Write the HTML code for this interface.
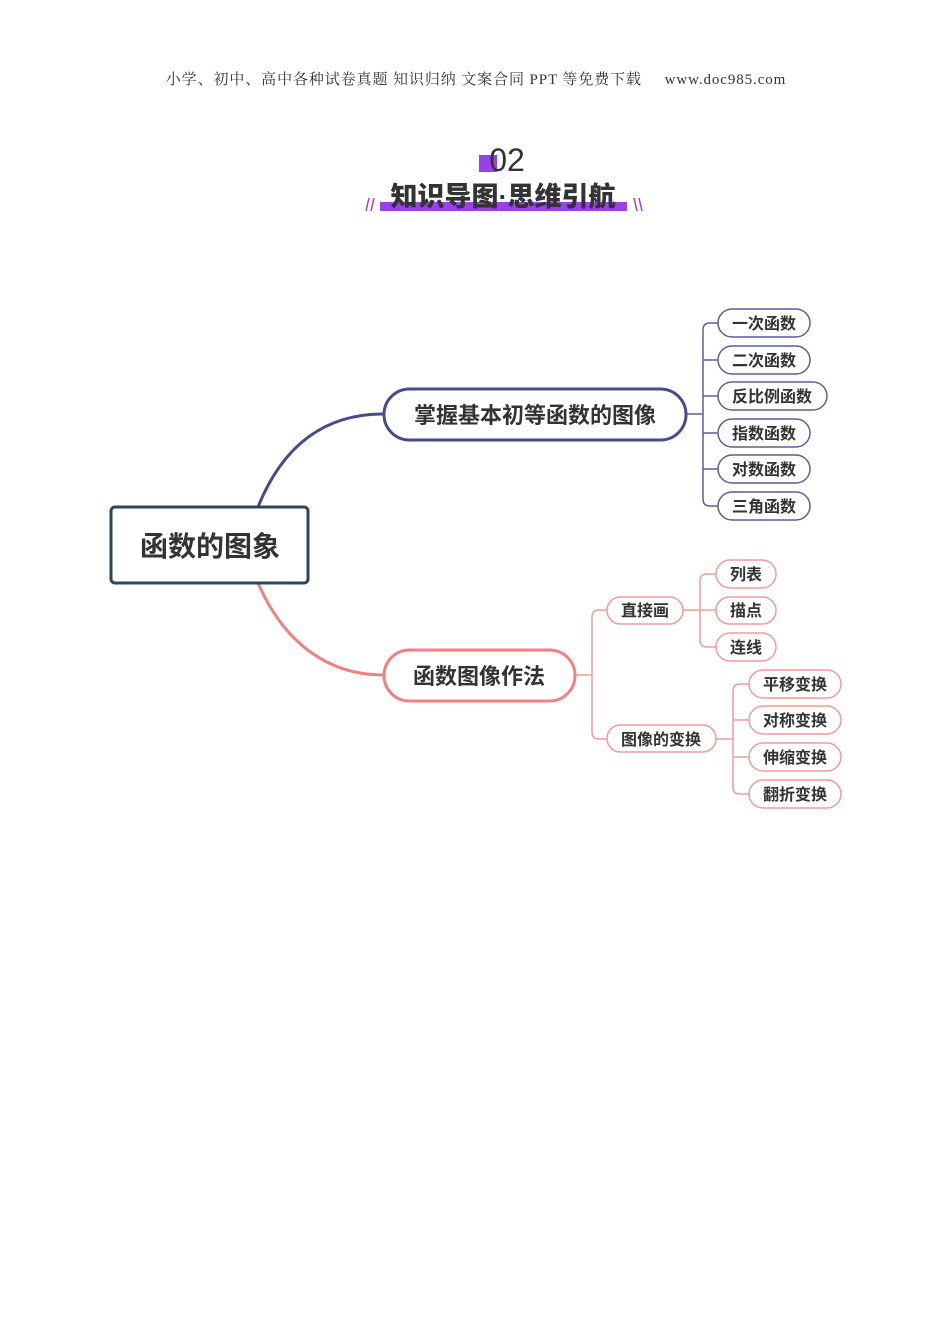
<!DOCTYPE html>
<html><head><meta charset="utf-8"><style>
html,body{margin:0;padding:0;background:#fff;width:950px;height:1344px;overflow:hidden}
svg text{font-family:"Liberation Sans","Noto Sans CJK SC",sans-serif;font-weight:bold;fill:#333}
</style></head><body>
<svg width="950" height="1344" xmlns="http://www.w3.org/2000/svg">
<text x="476" y="84" text-anchor="middle" style="font-family:'Liberation Serif','Noto Serif CJK SC',serif;font-weight:normal;font-size:15px;letter-spacing:0.9px" fill="#111">小学、初中、高中各种试卷真题 知识归纳 文案合同 PPT 等免费下载 <tspan dx="18">www.doc985.com</tspan></text>
<rect x="479" y="155" width="18" height="17" fill="#9b3fe8"/>
<text x="507" y="171" text-anchor="middle" style="font-weight:normal;font-size:32px" fill="#222">02</text>
<rect x="380" y="202" width="247" height="9" fill="#9b3fe8"/>
<text x="503" y="206" text-anchor="middle" style="font-size:27px;font-weight:900" fill="#111">知识导图·思维引航</text>
<g stroke="#9b3fe8" stroke-width="1.5"><line x1="366" y1="211" x2="369" y2="198"/><line x1="371" y1="211" x2="374" y2="198"/><line x1="634" y1="198" x2="637" y2="211"/><line x1="639" y1="198" x2="642" y2="211"/></g>

<path d="M258,507 C285,440 330,414 383,414" stroke="#454c8a" stroke-width="3" fill="none"/>
<path d="M258,583 C285,645 330,675 383,675" stroke="#f28080" stroke-width="3" fill="none"/>
<rect x="111" y="507" width="197" height="76" rx="4" fill="#fff" stroke="#2d4660" stroke-width="3"/>
<text x="210" y="556" text-anchor="middle" style="font-size:28px">函数的图象</text>

<rect x="384" y="389" width="302" height="51" rx="25.5" fill="#fff" stroke="#454c8a" stroke-width="3"/>
<text x="535" y="423" text-anchor="middle" style="font-size:22px">掌握基本初等函数的图像</text>
<g stroke="#5a5f96" stroke-width="1.5" fill="none">
<line x1="687" y1="414" x2="703" y2="414"/>
<path d="M718,323 H710 Q703,323 703,330 V499 Q703,506 710,506 H718"/>
<line x1="703" y1="360" x2="718" y2="360"/><line x1="703" y1="396" x2="718" y2="396"/><line x1="703" y1="433" x2="718" y2="433"/><line x1="703" y1="469" x2="718" y2="469"/>
</g>
<g fill="#fff" stroke="#5a5f96" stroke-width="1.5">
<rect x="718" y="309" width="92" height="28" rx="14"/>
<rect x="718" y="346" width="92" height="28" rx="14"/>
<rect x="718" y="382" width="109" height="28" rx="14"/>
<rect x="718" y="419" width="92" height="28" rx="14"/>
<rect x="718" y="455" width="92" height="28" rx="14"/>
<rect x="718" y="492" width="92" height="28" rx="14"/>
</g>
<g style="font-size:16px" text-anchor="middle">
<text x="764" y="329">一次函数</text><text x="764" y="366">二次函数</text><text x="772" y="402">反比例函数</text>
<text x="764" y="439">指数函数</text><text x="764" y="475">对数函数</text><text x="764" y="512">三角函数</text>
</g>

<rect x="384" y="650" width="191" height="51" rx="25.5" fill="#fff" stroke="#f28080" stroke-width="3"/>
<text x="479" y="684" text-anchor="middle" style="font-size:22px">函数图像作法</text>
<g stroke="#f29a9a" stroke-width="1.5" fill="none">
<line x1="576" y1="675" x2="592" y2="675"/>
<path d="M607,610 H599 Q592,610 592,617 V732 Q592,739 599,739 H607"/>
<line x1="683" y1="610" x2="700" y2="610"/>
<path d="M716,574 H707 Q700,574 700,581 V640 Q700,647 707,647 H716"/>
<line x1="700" y1="610" x2="716" y2="610"/>
<line x1="716" y1="739" x2="733" y2="739"/>
<path d="M749,684 H740 Q733,684 733,691 V787 Q733,794 740,794 H749"/>
<line x1="733" y1="720" x2="749" y2="720"/><line x1="733" y1="757" x2="749" y2="757"/>
</g>
<g fill="#fff" stroke="#f29a9a" stroke-width="1.5">
<rect x="607" y="597" width="76" height="27" rx="13.5"/>
<rect x="607" y="725" width="109" height="27" rx="13.5"/>
<rect x="716" y="560" width="60" height="28" rx="14"/>
<rect x="716" y="597" width="60" height="27" rx="13.5"/>
<rect x="716" y="633" width="60" height="28" rx="14"/>
<rect x="749" y="670" width="92" height="28" rx="14"/>
<rect x="749" y="706" width="92" height="28" rx="14"/>
<rect x="749" y="743" width="92" height="28" rx="14"/>
<rect x="749" y="780" width="92" height="28" rx="14"/>
</g>
<g style="font-size:16px" text-anchor="middle">
<text x="645" y="616">直接画</text><text x="661" y="745">图像的变换</text>
<text x="746" y="580">列表</text><text x="746" y="616">描点</text><text x="746" y="653">连线</text>
<text x="795" y="690">平移变换</text><text x="795" y="726">对称变换</text><text x="795" y="763">伸缩变换</text><text x="795" y="800">翻折变换</text>
</g>
</svg>
</body></html>
